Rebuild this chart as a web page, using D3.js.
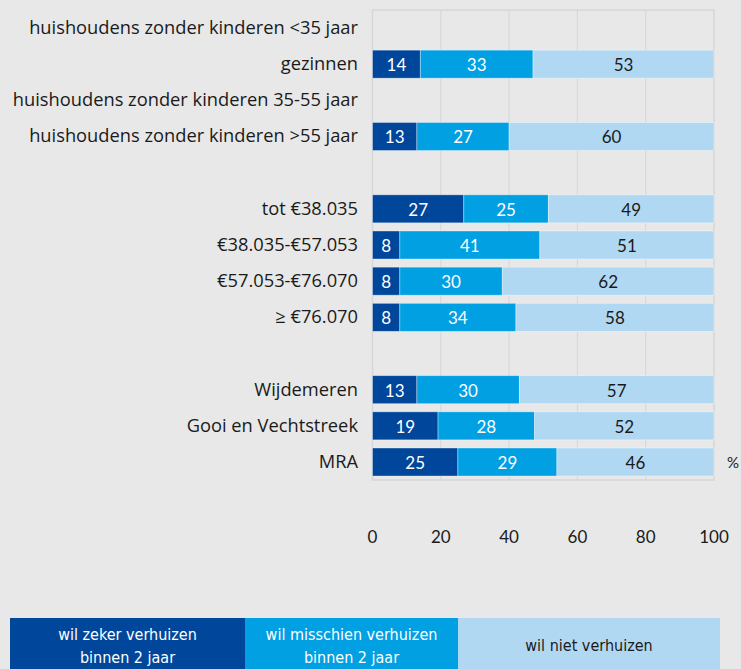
<!DOCTYPE html>
<html>
<head>
<meta charset="utf-8">
<script src="https://cdn.jsdelivr.net/npm/d3@7"></script>
<style>
  body { margin: 0; background: #e8e8e8; }
  svg { display: block; }
  text { font-family: Lato, "Open Sans", sans-serif; }
  .cat { font-family: "Open Sans", sans-serif; }
  .legend text { font-family: "Liberation Sans Narrow", "DejaVu Sans Condensed", sans-serif; }
</style>
</head>
<body>
<svg></svg>
<script>
let categories = [
    'huishoudens zonder kinderen <35 jaar',
    'gezinnen',
    'huishoudens zonder kinderen 35-55 jaar',
    'huishoudens zonder kinderen >55 jaar',
    '',
    'tot €38.035',
    '€38.035-€57.053',
    '€57.053-€76.070',
    '≥ €76.070',
    '',
    'Wijdemeren',
    'Gooi en Vechtstreek',
    'MRA'
]
let zeker     = [null, 14, null, 13, null, 27, 8, 8, 8, null, 13, 19, 25]
let misschien = [null, 33, null, 27, null, 25, 41, 30, 34, null, 30, 28, 29]
let niet      = [null, 53, null, 60, null, 49, 51, 62, 58, null, 57, 52, 46]
let series = ['wil zeker verhuizen\nbinnen 2 jaar', 'wil misschien verhuizen\nbinnen 2 jaar', 'wil niet verhuizen']
let xTicks = [0, 20, 40, 60, 80, 100]

let width = 741
let height = 669
let colors = ['#00479b', '#00a0e3', '#b1d8f3']
let textColors = ['#ffffff', '#ffffff', '#1a1a1a']

let svg = d3.select('svg')
            .attr('width', width)
            .attr('height', height)

let x = d3.scaleLinear()
          .domain([0, 100])
          .range([372.5, 714])

let y = d3.scaleBand()
          .domain(d3.range(categories.length))
          .range([10, 480])
          .paddingInner(0.225)
          .paddingOuter(0.11)

// plot frame + gridlines
svg.append('rect')
    .attr('x', x(0))
    .attr('y', 10)
    .attr('width', x(100) - x(0))
    .attr('height', 470)
    .attr('fill', 'none')
    .attr('stroke', '#d6d6d6')
    .attr('stroke-width', 1.5)

svg.selectAll('.grid')
    .data(xTicks.slice(1, -1))
    .enter()
    .append('line')
    .attr('x1', d => x(d))
    .attr('x2', d => x(d))
    .attr('y1', 10)
    .attr('y2', 480)
    .attr('stroke', '#d6d6d6')
    .attr('stroke-width', 1)

// stacked rows (each row scaled to 100%)
let rows = categories.map((c, i) => {
    let vals = [zeker[i], misschien[i], niet[i]]
    if (vals[0] == null) return {i: i, segs: []}
    let total = d3.sum(vals)
    let acc = 0
    let segs = vals.map((v, k) => {
        let s = {k: k, v: v, x0: acc / total * 100, x1: (acc + v) / total * 100}
        acc += v
        return s
    })
    return {i: i, segs: segs}
})

let row = svg.selectAll('.row')
    .data(rows)
    .enter()
    .append('g')
    .attr('class', 'row')

row.selectAll('rect')
    .data(d => d.segs.map(s => Object.assign({i: d.i}, s)))
    .enter()
    .append('rect')
    .attr('x', d => x(d.x0))
    .attr('y', d => y(d.i))
    .attr('width', d => x(d.x1) - x(d.x0))
    .attr('height', y.bandwidth())
    .attr('fill', d => colors[d.k])
    .attr('stroke', 'rgba(255,255,255,0.45)')
    .attr('stroke-width', 0.8)

row.selectAll('text')
    .data(d => d.segs.map(s => Object.assign({i: d.i}, s)))
    .enter()
    .append('text')
    .attr('x', d => (x(d.x0) + x(d.x1)) / 2)
    .attr('y', d => y(d.i) + y.bandwidth() / 2 + 7)
    .attr('text-anchor', 'middle')
    .attr('font-size', 17)
    .attr('fill', d => textColors[d.k])
    .text(d => d.v)

// category labels
svg.selectAll('.cat')
    .data(categories)
    .enter()
    .append('text')
    .attr('class', 'cat')
    .attr('x', 358)
    .attr('y', (d, i) => y(i) + y.bandwidth() / 2 + 6)
    .attr('text-anchor', 'end')
    .attr('font-size', 18.3)
    .attr('fill', '#1a1a1a')
    .text(d => d)

// x axis labels
svg.selectAll('.tick')
    .data(xTicks)
    .enter()
    .append('text')
    .attr('x', d => x(d))
    .attr('y', 543)
    .attr('text-anchor', 'middle')
    .attr('font-size', 17)
    .attr('fill', '#1a1a1a')
    .text(d => d)

svg.append('text')
    .attr('x', 733)
    .attr('y', y(categories.length - 1) + y.bandwidth() / 2 + 6)
    .attr('text-anchor', 'middle')
    .attr('font-size', 15)
    .attr('fill', '#1a1a1a')
    .text('%')

// legend
let lx = d3.scaleOrdinal()
           .domain(series)
           .range([[10, 245], [245, 458], [458, 720]])

let legend = svg.append('g')
    .attr('class', 'legend')
    .selectAll('g')
    .data(series)
    .enter()
    .append('g')

legend.append('rect')
    .attr('x', d => lx(d)[0])
    .attr('y', 618)
    .attr('width', d => lx(d)[1] - lx(d)[0])
    .attr('height', 51)
    .attr('fill', (d, i) => colors[i])

legend.each(function(d, i) {
    let lines = d.split('\n')
    let cx = (lx(d)[0] + lx(d)[1]) / 2
    let t = d3.select(this).append('text')
        .attr('text-anchor', 'middle')
        .attr('font-size', 16)
        .attr('fill', textColors[i])
    lines.forEach((ln, j) => {
        t.append('tspan')
            .attr('x', cx)
            .attr('y', lines.length == 1 ? 651 : 640 + j * 23)
            .text(ln)
    })
})
</script>
</body>
</html>
